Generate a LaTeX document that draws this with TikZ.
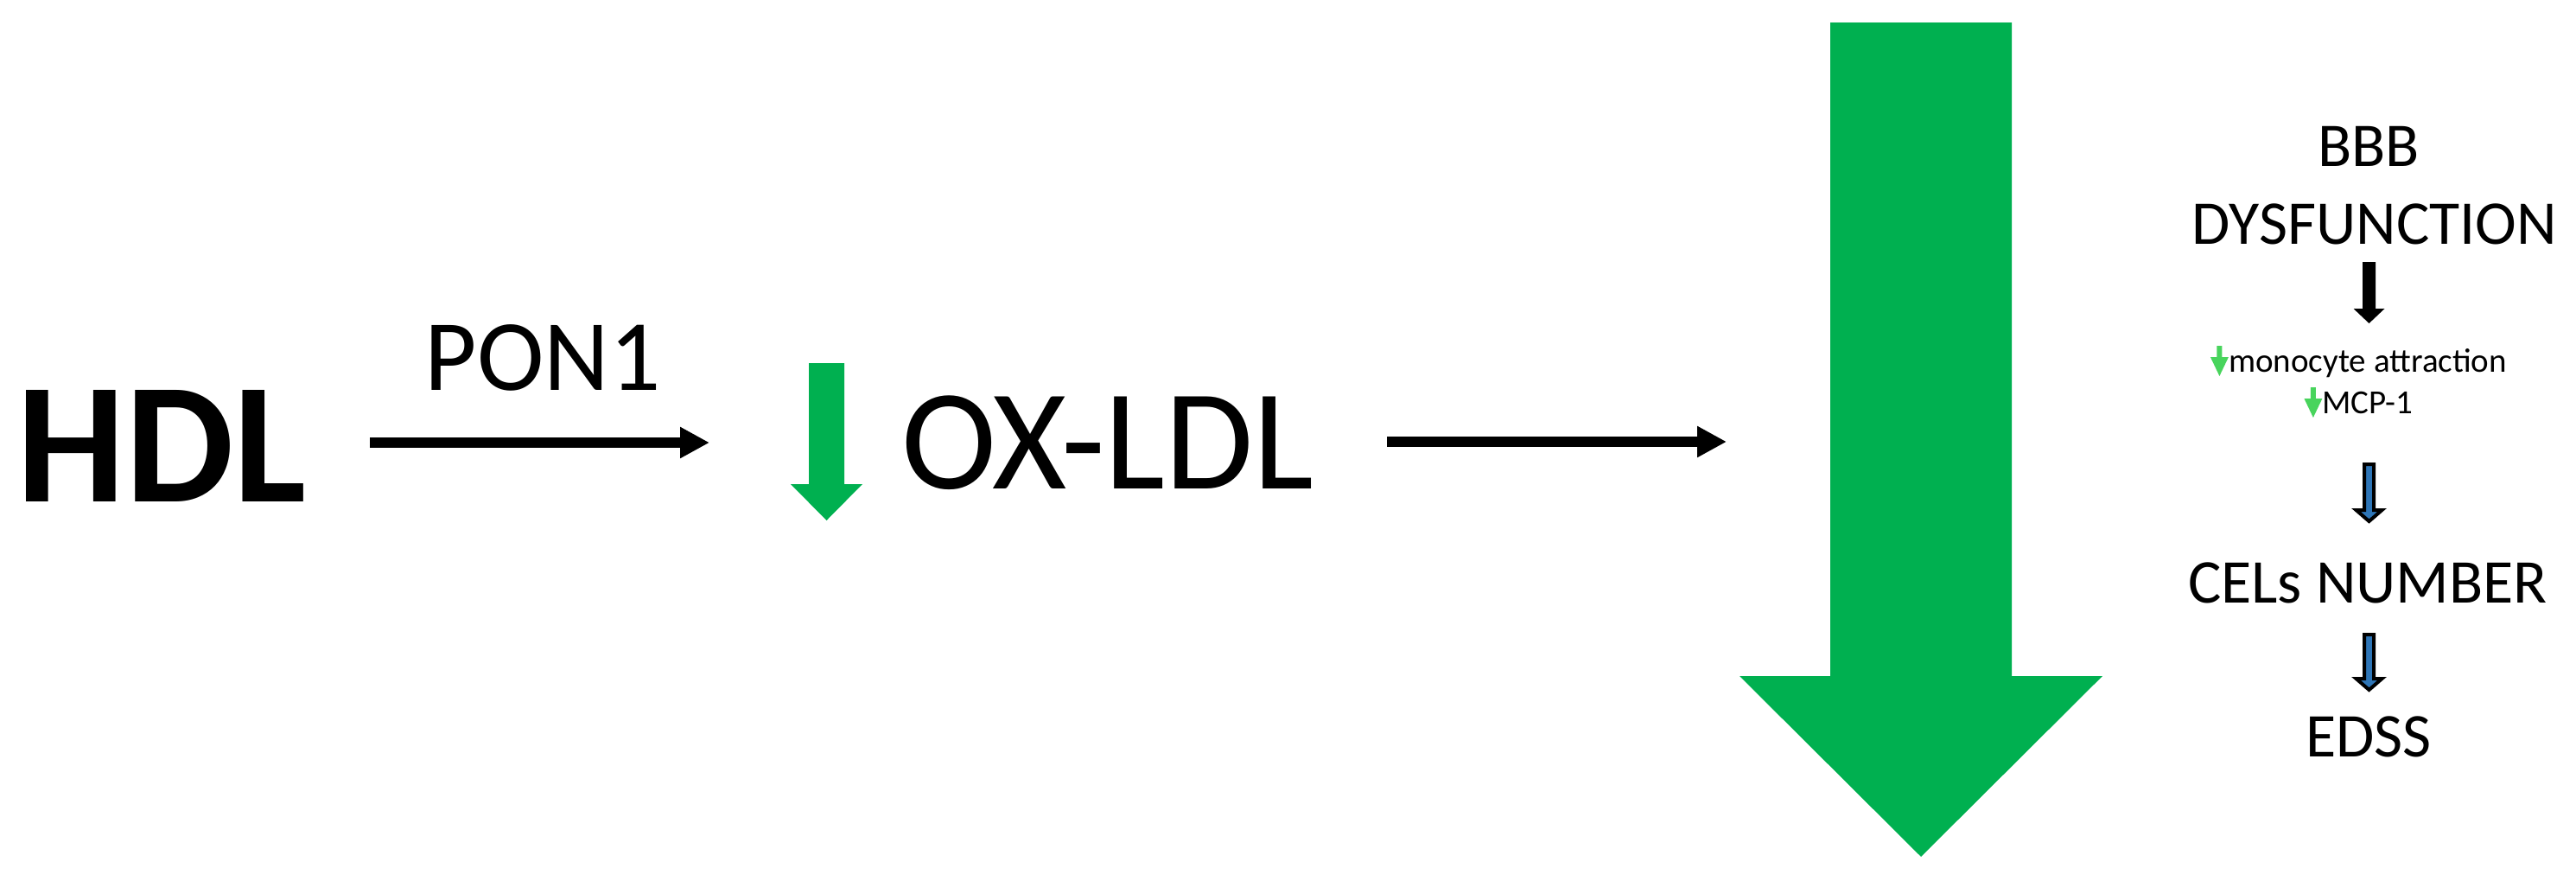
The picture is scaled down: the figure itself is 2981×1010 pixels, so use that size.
\documentclass[tikz,border=0pt]{standalone}
\usepackage{fontspec}
\setmainfont{Carlito}
\usetikzlibrary{arrows.meta}
\definecolor{biggreen}{RGB}{0,176,80}
\definecolor{ltgreen}{RGB}{72,212,92}
\definecolor{arrblue}{RGB}{46,117,182}
% #1 style, #2 centre x, #3 shaft half width, #4 head half width, #5 top y, #6 shoulder y, #7 tip y
\newcommand\blockdown[7]{\path[#1] (#2-#3,#5) -- (#2+#3,#5) -- (#2+#3,#6) -- (#2+#4,#6) -- (#2,#7) -- (#2-#4,#6) -- (#2-#3,#6) -- cycle;}
\begin{document}
\begin{tikzpicture}[x=1pt,y=-1pt,
  txt/.style={inner sep=0pt, anchor=base, text=black},
  hdlfont/.style={font=\fontsize{199}{240}\selectfont\bfseries},
  ponfont/.style={font=\fontsize{117}{140}\selectfont},
  oxfont/.style={font=\fontsize{166}{200}\selectfont},
  colfont/.style={font=\fontsize{72}{86}\selectfont},
  smallfont/.style={font=\fontsize{39}{47}\selectfont},
  conn/.style={draw=black, line width=12pt, -{Triangle[length=34pt,width=34pt]}},
  greenarr/.style={fill=biggreen},
  ltarr/.style={fill=ltgreen},
  blackarr/.style={fill=black},
  bluearr/.style={fill=arrblue, draw=black, line width=4pt, line join=miter}]
\useasboundingbox (0,0) rectangle (2981,1010);

% main row
\node[txt, hdlfont] (hdl) at (187,580) {HDL};
\node[txt, ponfont] (pon) at (628,451) {PON1};
\coordinate (a1s) at (428,512);
\coordinate (a1e) at (821,512);
\draw[conn] (a1s) -- (a1e);

\blockdown{greenarr}{956.5}{20.5}{41.5}{420}{560}{602}
\node[txt, oxfont] (oxldl) at (1282,565) {OX-LDL};

\coordinate (a2s) at (1605,511);
\coordinate (a2e) at (1998,511);
\draw[conn] (a2s) -- (a2e);

% big arrow
\blockdown{greenarr}{2223}{105}{210}{26}{782}{991}

% right column
\node[txt, colfont] (bbb) at (2741,192) {BBB};
\node[txt, colfont] (dys) at (2748,282) {DYSFUNCTION};
\blockdown{blackarr}{2741.5}{7.5}{18}{303}{357}{374}

\node[txt, smallfont] (mono) at (2740,430) {monocyte attraction};
\begin{scope}[shift={(mono.base west)}]
  \blockdown{ltarr}{-10.5}{3}{10.5}{-30}{-17}{5}
\end{scope}
\node[txt, smallfont] (mcp) at (2740,478) {MCP-1};
\begin{scope}[shift={(mcp.base west)}]
  \blockdown{ltarr}{-10.5}{3}{10.5}{-30}{-17}{5}
\end{scope}

\blockdown{bluearr}{2741.5}{5.5}{15}{537}{590}{603}
\node[txt, colfont] (cels) at (2740,697) {CELs NUMBER};
\blockdown{bluearr}{2741.5}{5.5}{15}{734}{785}{798}
\node[txt, colfont] (edss) at (2741,875) {EDSS};
\end{tikzpicture}
\end{document}
